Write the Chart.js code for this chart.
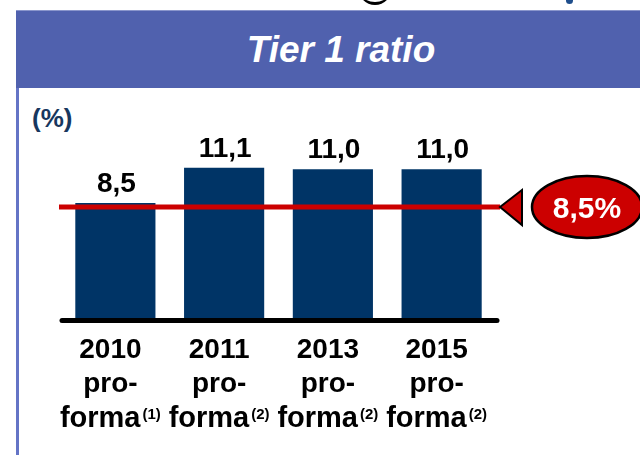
<!DOCTYPE html>
<html>
<head>
<meta charset="utf-8">
<title>Tier 1 ratio</title>
<script src="https://cdn.jsdelivr.net/npm/chart.js@4.4.0/dist/chart.umd.min.js"></script>
<style>
    html, body {
        margin: 0;
        padding: 0;
        background: #ffffff;
    }
    #wrap {
        position: relative;
        width: 640px;
        height: 455px;
        overflow: hidden;
        font-family: "Liberation Sans", Arial, sans-serif;
    }
    #header {
        position: absolute;
        left: 16px;
        top: 10px;
        width: 624px;
        height: 78px;
        background: #5061ae;
        border-top: 1px solid #8a96cc;
        box-sizing: border-box;
    }
    #title {
        position: absolute;
        left: 0;
        top: 19px;
        width: 650px;
        text-align: center;
        color: #ffffff;
        font-weight: bold;
        font-style: italic;
        font-size: 37px;
        line-height: 40px;
    }
    #leftBorder {
        position: absolute;
        left: 16px;
        top: 88px;
        width: 3px;
        height: 367px;
        background: #6474c6;
    }
    #unit {
        position: absolute;
        left: 32px;
        top: 103px;
        color: #17375e;
        font-weight: bold;
        font-size: 26px;
    }
    #logoArc {
        position: absolute;
        left: 358px;
        top: -30px;
        width: 34px;
        height: 32px;
        border-radius: 50%;
        border-bottom: 3px solid #000000;
    }
    #logoDot {
        position: absolute;
        left: 566px;
        top: -3px;
        width: 7px;
        height: 7px;
        border-radius: 50%;
        background: #1f4e8c;
    }
    canvas {
        position: absolute;
        left: 0;
        top: 0;
    }
</style>
</head>
<body>
<div id="wrap">
    <div id="logoArc"></div>
    <div id="logoDot"></div>
    <div id="header"><div id="title">Tier 1 ratio</div></div>
    <div id="leftBorder"></div>
    <div id="unit">(%)</div>
    <canvas id="tierChart" width="640" height="455"></canvas>
</div>

<script>
// Chart data
const years = ['2010', '2011', '2013', '2015'];
const notes = ['(1)', '(2)', '(2)', '(2)'];
const tierValues = [8.5, 11.1, 11.0, 11.0];
const valueLabels = ['8,5', '11,1', '11,0', '11,0'];
const minimumLevel = 8.2;          // where the red line sits on the value scale
const minimumLabel = '8,5%';
const yRange = [0, 15];

const FONT = '"Liberation Sans", Arial, sans-serif';

// Bars' value labels, axis line, x labels and the red minimum line
const decorations = {
    id: 'decorations',
    afterDatasetsDraw(chart) {
        const ctx = chart.ctx;
        const x = chart.scales.x;
        const y = chart.scales.y;
        const meta = chart.getDatasetMeta(0);

        ctx.save();

        // black base line
        const baseY = y.getPixelForValue(0) + 2.5;
        ctx.strokeStyle = '#000000';
        ctx.lineWidth = 5;
        ctx.lineCap = 'round';
        ctx.beginPath();
        ctx.moveTo(x.left + 1, baseY);
        ctx.lineTo(x.right + 1, baseY);
        ctx.stroke();

        // values on top of the bars
        ctx.fillStyle = '#000000';
        ctx.textAlign = 'center';
        ctx.textBaseline = 'alphabetic';
        ctx.font = 'bold 28px ' + FONT;
        meta.data.forEach((bar, i) => {
            ctx.fillText(valueLabels[i], bar.x + 1, bar.y - 11);
        });

        // category labels: year / pro- / forma + note
        meta.data.forEach((bar, i) => {
            const cx = x.getPixelForValue(i) - 5;
            ctx.font = 'bold 28px ' + FONT;
            ctx.textAlign = 'center';
            ctx.fillText(years[i], cx, 358);
            ctx.fillText('pro-', cx, 392);

            ctx.font = 'bold 29px ' + FONT;
            const mainW = ctx.measureText('forma').width;
            ctx.font = 'bold 15px ' + FONT;
            const noteW = ctx.measureText(notes[i]).width;
            const start = cx - (mainW + 2 + noteW) / 2;
            ctx.textAlign = 'left';
            ctx.font = 'bold 29px ' + FONT;
            ctx.fillText('forma', start, 427);
            ctx.font = 'bold 15px ' + FONT;
            ctx.fillText(notes[i], start + mainW + 2, 419);
        });

        // red minimum line
        const lineY = y.getPixelForValue(minimumLevel);
        const tipX = x.right + 4;
        ctx.strokeStyle = '#cc0000';
        ctx.lineWidth = 5;
        ctx.lineCap = 'butt';
        ctx.beginPath();
        ctx.moveTo(x.left - 2, lineY);
        ctx.lineTo(tipX, lineY);
        ctx.stroke();

        // arrow head
        ctx.fillStyle = '#cc0000';
        ctx.strokeStyle = '#000000';
        ctx.lineWidth = 2;
        ctx.lineJoin = 'miter';
        ctx.beginPath();
        ctx.moveTo(tipX, lineY);
        ctx.lineTo(tipX + 22, lineY - 17);
        ctx.lineTo(tipX + 22, lineY + 18);
        ctx.closePath();
        ctx.fill();
        ctx.stroke();

        // bubble with the minimum value
        const bx = tipX + 87;
        ctx.beginPath();
        ctx.ellipse(bx, lineY, 55, 31, 0, 0, Math.PI * 2);
        ctx.fillStyle = '#cc0000';
        ctx.fill();
        ctx.lineWidth = 2.5;
        ctx.stroke();

        ctx.fillStyle = '#ffffff';
        ctx.font = 'bold 30px ' + FONT;
        ctx.textAlign = 'center';
        ctx.fillText(minimumLabel, bx, lineY + 11);

        ctx.restore();
    }
};

const ctx = document.getElementById('tierChart').getContext('2d');
new Chart(ctx, {
    type: 'bar',
    data: {
        labels: years,
        datasets: [{
            label: 'Tier 1 ratio',
            data: tierValues,
            backgroundColor: '#003466',
            borderWidth: 0,
            barPercentage: 0.737,
            categoryPercentage: 1
        }]
    },
    options: {
        responsive: false,
        animation: false,
        events: [],
        layout: {
            padding: { left: 61, right: 144, top: 115, bottom: 137 }
        },
        plugins: {
            legend: { display: false },
            tooltip: { enabled: false }
        },
        scales: {
            x: { display: false },
            y: { display: false, min: yRange[0], max: yRange[1] }
        }
    },
    plugins: [decorations]
});
</script>
</body>
</html>
